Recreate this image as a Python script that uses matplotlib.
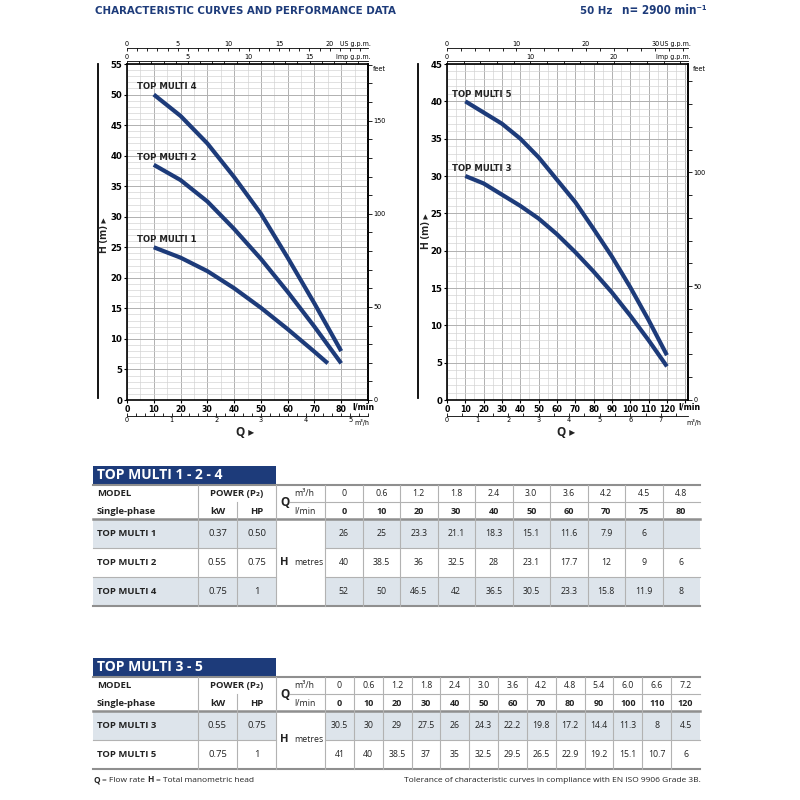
import matplotlib
matplotlib.use("Agg")
import matplotlib.pyplot as plt
from matplotlib import font_manager
from matplotlib.font_manager import FontProperties
from matplotlib.lines import Line2D
from matplotlib.patches import Rectangle
from matplotlib.ticker import MultipleLocator, FuncFormatter

# --- TOP MULTI 1 - 2 - 4 ---
q_m3h_a = ['0', '0.6', '1.2', '1.8', '2.4', '3.0', '3.6', '4.2', '4.5', '4.8']
q_lmin_a = [0, 10, 20, 30, 40, 50, 60, 70, 75, 80]
models_a = ['TOP MULTI 1', 'TOP MULTI 2', 'TOP MULTI 4']
kw_a = ['0.37', '0.55', '0.75']
hp_a = ['0.50', '0.75', '1']
h_multi1 = [26, 25, 23.3, 21.1, 18.3, 15.1, 11.6, 7.9, 6, None]
h_multi2 = [40, 38.5, 36, 32.5, 28, 23.1, 17.7, 12, 9, 6]
h_multi4 = [52, 50, 46.5, 42, 36.5, 30.5, 23.3, 15.8, 11.9, 8]

# --- TOP MULTI 3 - 5 ---
q_m3h_b = ['0', '0.6', '1.2', '1.8', '2.4', '3.0', '3.6', '4.2', '4.8', '5.4', '6.0', '6.6', '7.2']
q_lmin_b = [0, 10, 20, 30, 40, 50, 60, 70, 80, 90, 100, 110, 120]
models_b = ['TOP MULTI 3', 'TOP MULTI 5']
kw_b = ['0.55', '0.75']
hp_b = ['0.75', '1']
h_multi3 = [30.5, 30, 29, 27.5, 26, 24.3, 22.2, 19.8, 17.2, 14.4, 11.3, 8, 4.5]
h_multi5 = [41, 40, 38.5, 37, 35, 32.5, 29.5, 26.5, 22.9, 19.2, 15.1, 10.7, 6]

W, H = 800, 800
NAVY = '#1d3b7a'
TXT = '#222222'
SHADE = '#dde4eb'
GRID_MIN = '#d4d4d4'
GRID_MAJ = '#b0b0b0'

plt.rcParams['font.family'] = ['Open Sans', 'DejaVu Sans']

# look for a condensed face (narrow labels on the charts)
_files = [f.fname for f in font_manager.fontManager.ttflist]


def _find(*keys):
    for k in keys:
        for fn in _files:
            if fn.endswith(k):
                return fn
    return None


_cond_reg = _find('LiberationSansNarrow-Regular.ttf', 'DejaVuSansCondensed.ttf')
_cond_bold = _find('LiberationSansNarrow-Bold.ttf', 'DejaVuSansCondensed-Bold.ttf')


def cond(size, bold=False):
    fn = _cond_bold if bold else _cond_reg
    if fn:
        return FontProperties(fname=fn, size=size)
    return FontProperties(family='Open Sans', size=size, weight='bold' if bold else 'normal')


fig = plt.figure(figsize=(8, 8), dpi=100)

# full-figure pixel axes for tables, header, decorations
pa = fig.add_axes([0, 0, 1, 1])
pa.set_xlim(0, W)
pa.set_ylim(H, 0)
pa.axis('off')


def px_axes(x0, y0, x1, y1):
    return fig.add_axes([x0 / W, 1 - y1 / H, (x1 - x0) / W, (y1 - y0) / H])


def pump_chart(box, qmax, hmax, q_last, curves, gpm_step, gpm_minor, m3_minor,
               lbl_dx, lbl_dy, lmin_x, m3_x):
    ax = px_axes(*box)
    ax.set_xlim(0, qmax)
    ax.set_ylim(0, hmax)
    ax.xaxis.set_major_locator(MultipleLocator(10))
    ax.xaxis.set_minor_locator(MultipleLocator(5))
    ax.yaxis.set_major_locator(MultipleLocator(5))
    ax.yaxis.set_minor_locator(MultipleLocator(1))
    ax.grid(which='minor', color=GRID_MIN, lw=0.5)
    ax.grid(which='major', color=GRID_MAJ, lw=0.7)
    ax.set_axisbelow(True)
    for s in ax.spines.values():
        s.set_linewidth(1.2)
    ax.tick_params(which='major', length=2, width=0.8, pad=1.5)
    ax.tick_params(which='minor', length=0)
    ax.xaxis.set_major_formatter(FuncFormatter(lambda v, p: f'{v:g}' if v <= q_last else ''))
    for lab in ax.get_xticklabels():
        lab.set_fontproperties(cond(6.3, True))
    for lab in ax.get_yticklabels():
        lab.set_fontproperties(cond(6.8, True))
    ax.text(lmin_x, -0.008, 'l/min', transform=ax.transAxes, ha='left', va='top',
            fontproperties=cond(6.3, True))

    for q, h, name in curves:
        pts = [(qq, hh) for qq, hh in zip(q, h) if qq > 0 and hh is not None]
        xs = [p[0] for p in pts]
        ys = [p[1] for p in pts]
        ax.plot(xs, ys, color=NAVY, lw=3, solid_capstyle='butt', solid_joinstyle='round')
        ax.text(xs[0] + lbl_dx, ys[0] + lbl_dy, name, color=TXT, ha='left', va='center',
                fontproperties=cond(6.8, True))

    h_px = box[3] - box[1]

    # feet on the right
    ft = ax.secondary_yaxis('right', functions=(lambda m: m * 3.28084, lambda f: f / 3.28084))
    ft.yaxis.set_major_locator(MultipleLocator(50))
    ft.yaxis.set_minor_locator(MultipleLocator(10))
    ft.tick_params(which='both', length=3, width=0.6, pad=1)
    ft.spines['right'].set_linewidth(1.2)
    for lab in ft.get_yticklabels():
        lab.set_fontproperties(cond(5.2))
    ax.text(1.02, 0.985, 'feet', transform=ax.transAxes, ha='left', va='center',
            fontproperties=cond(5.2))

    # US g.p.m. and Imp g.p.m. on top
    for loc_px, factor, step, minor, name in [
        (48, 3.78541, gpm_step[0], gpm_minor[0], 'US g.p.m.'),
        (61, 4.54609, gpm_step[1], gpm_minor[1], 'Imp g.p.m.'),
    ]:
        loc = (box[3] - loc_px) / h_px
        sx = ax.secondary_xaxis(loc, functions=(lambda q, f=factor: q / f,
                                                lambda g, f=factor: g * f))
        sx.xaxis.set_major_locator(MultipleLocator(step))
        sx.xaxis.set_minor_locator(MultipleLocator(minor))
        sx.xaxis.set_major_formatter(FuncFormatter(
            lambda v, p, f=factor: f'{v:g}' if v * f < qmax * 0.93 else ''))
        sx.tick_params(which='both', direction='in', length=2.5, width=0.6, pad=1)
        sx.spines['top'].set_linewidth(0.6)
        for lab in sx.get_xticklabels():
            lab.set_fontproperties(cond(5.2))
        ax.text(1.01, loc + 0.002, name, transform=ax.transAxes, ha='right', va='bottom',
                fontproperties=cond(5.0))

    # m3/h below
    loc = -16 / h_px
    m3 = ax.secondary_xaxis(loc, functions=(lambda q: q * 0.06, lambda m: m / 0.06))
    m3.xaxis.set_major_locator(MultipleLocator(1))
    m3.xaxis.set_minor_locator(MultipleLocator(m3_minor))
    m3.tick_params(which='both', direction='in', length=2.5, width=0.6, pad=1)
    m3.spines['bottom'].set_linewidth(0.6)
    for lab in m3.get_xticklabels():
        lab.set_fontproperties(cond(5.2))
    ax.text(m3_x, loc - 0.01, 'm³/h', transform=ax.transAxes, ha='left', va='top',
            fontproperties=cond(5.0))
    return ax


# --- header ---
pa.text(95, 11, 'CHARACTERISTIC CURVES AND PERFORMANCE DATA', color=NAVY, va='center',
        ha='left', fontproperties=cond(8.2, True))
pa.text(580, 11, '50 Hz', color=NAVY, va='center', ha='left', fontproperties=cond(8.2, True))
pa.text(622, 11, 'n= 2900 min⁻¹', color=NAVY, va='center', ha='left',
        fontproperties=cond(8.4, True))

# --- charts ---
pump_chart((127, 64, 368, 400), 90, 55, 80,
           [(q_lmin_a, h_multi4, models_a[2]), (q_lmin_a, h_multi2, models_a[1]),
            (q_lmin_a, h_multi1, models_a[0])],
           (5, 5), (1, 1), 0.2, -6.3, 1.25, 0.935, 0.945)
pump_chart((447, 64, 688, 400), 131.5, 45, 120,
           [(q_lmin_b, h_multi5, models_b[1]), (q_lmin_b, h_multi3, models_b[0])],
           (10, 10), (2, 2), 0.5, -7.3, 0.95, 0.958, 0.995)

for xl in (98, 418):
    pa.add_line(Line2D([xl, xl], [64, 398], color='black', lw=1.3))
for xc, yc in ((105, 235), (426, 231)):
    pa.text(xc, yc, 'H (m) ▸', rotation=90, fontsize=7.5, fontweight='bold', color=TXT,
            ha='center', va='center')
for xc in (245, 566):
    pa.text(xc, 432, 'Q ▸', fontsize=8.5, fontweight='bold', color=TXT,
            ha='center', va='center')


# --- tables ---
def draw_table(top, title, q_m3h, q_lmin, models, kws, hps, heads):
    x_l, x_r = 93, 700
    c_kw, c_hp, c_q, c_val = 198, 237, 276, 325
    mid = top + 17
    hdr = top + 34
    row_h = 29
    n = len(models)
    bottom = hdr + n * row_h
    ncol = len(q_m3h)
    cw = (x_r - c_val) / ncol
    fs = 6.8

    pa.add_patch(Rectangle((x_l, top - 19), c_q - x_l, 18, color=NAVY, lw=0))
    pa.text(x_l + 4, top - 10, title, color='white', fontsize=10, fontweight='bold',
            va='center', ha='left')

    for i in range(n):
        if i % 2 == 0:
            y0 = hdr + i * row_h
            pa.add_patch(Rectangle((x_l, y0), c_q - x_l, row_h, color=SHADE, lw=0))
            pa.add_patch(Rectangle((c_val, y0), x_r - c_val, row_h, color=SHADE, lw=0))

    gl = '#b2b2b2'
    pa.add_line(Line2D([x_l, x_r], [top, top], color='#8f8f8f', lw=1.5))
    pa.add_line(Line2D([290, x_r], [mid, mid], color=gl, lw=0.8))
    pa.add_line(Line2D([x_l, x_r], [hdr, hdr], color='#8f8f8f', lw=1.8))
    for i in range(1, n):
        y = hdr + i * row_h
        pa.add_line(Line2D([x_l, c_q], [y, y], color=gl, lw=0.8))
        pa.add_line(Line2D([c_val, x_r], [y, y], color=gl, lw=0.8))
    pa.add_line(Line2D([x_l, x_r], [bottom, bottom], color='#8f8f8f', lw=1.5))

    for x in [c_kw, c_q, c_val] + [c_val + cw * k for k in range(1, ncol)]:
        pa.add_line(Line2D([x, x], [top, bottom], color=gl, lw=0.8))
    pa.add_line(Line2D([c_hp, c_hp], [mid, bottom], color=gl, lw=0.8))

    ty1, ty2 = top + 9, top + 26
    pa.text(97, ty1, 'MODEL', fontsize=fs, fontweight='bold', color=TXT, va='center')
    pa.text(97, ty2, 'Single-phase', fontsize=fs, fontweight='bold', color=TXT, va='center')
    pa.text((c_kw + c_q) / 2, ty1, 'POWER (P₂)', fontsize=fs, fontweight='bold', color=TXT,
            va='center', ha='center')
    pa.text((c_kw + c_hp) / 2, ty2, 'kW', fontsize=fs, fontweight='bold', color=TXT,
            va='center', ha='center')
    pa.text((c_hp + c_q) / 2, ty2, 'HP', fontsize=fs, fontweight='bold', color=TXT,
            va='center', ha='center')
    pa.text(280, mid + 1, 'Q', fontsize=8.5, fontweight='bold', color=TXT, va='center')
    pa.text(294, ty1, 'm³/h', fontsize=6.3, color=TXT, va='center')
    pa.text(294, ty2, 'l/min', fontsize=6.3, color=TXT, va='center')
    for k in range(ncol):
        xc = c_val + cw * (k + 0.5)
        pa.text(xc, ty1, q_m3h[k], fontsize=6.3, color=TXT, va='center', ha='center')
        pa.text(xc, ty2, f'{q_lmin[k]:g}', fontsize=6.5, fontweight='bold', color=TXT,
                va='center', ha='center')

    for i in range(n):
        yc = hdr + (i + 0.5) * row_h
        pa.text(97, yc, models[i], fontsize=fs, fontweight='bold', color=TXT, va='center')
        pa.text((c_kw + c_hp) / 2, yc, kws[i], fontsize=fs, color=TXT, va='center', ha='center')
        pa.text((c_hp + c_q) / 2, yc, hps[i], fontsize=fs, color=TXT, va='center', ha='center')
        for k in range(ncol):
            v = heads[i][k]
            if v is None:
                continue
            pa.text(c_val + cw * (k + 0.5), yc, f'{v:g}', fontsize=6.3, color=TXT,
                    va='center', ha='center')
    ym = (hdr + bottom) / 2
    pa.text(280, ym, 'H', fontsize=8, fontweight='bold', color=TXT, va='center')
    pa.text(294, ym, 'metres', fontsize=6.3, color=TXT, va='center')


draw_table(485, 'TOP MULTI 1 - 2 - 4', q_m3h_a, q_lmin_a, models_a, kw_a, hp_a,
           [h_multi1, h_multi2, h_multi4])
draw_table(677, 'TOP MULTI 3 - 5', q_m3h_b, q_lmin_b, models_b, kw_b, hp_b,
           [h_multi3, h_multi5])

# --- footnotes ---
pa.text(93, 780, 'Q', fontsize=6, fontweight='bold', color=TXT, va='center')
pa.text(102, 780, '= Flow rate', fontsize=6, color=TXT, va='center')
pa.text(147, 780, 'H', fontsize=6, fontweight='bold', color=TXT, va='center')
pa.text(156, 780, '= Total manometric head', fontsize=6, color=TXT, va='center')
pa.text(701, 780, 'Tolerance of characteristic curves in compliance with EN ISO 9906 Grade 3B.',
        fontsize=6, color=TXT, va='center', ha='right')

fig.savefig('out.png', dpi=100)
